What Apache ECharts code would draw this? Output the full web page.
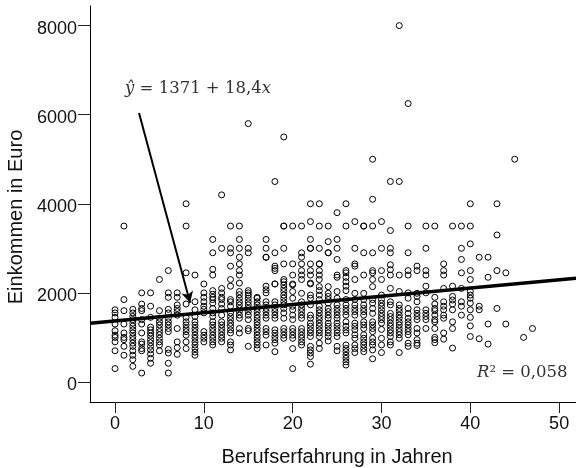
<!DOCTYPE html>
<html><head><meta charset="utf-8">
<style>html,body{margin:0;padding:0;background:#fff}#c{width:576px;height:468px}</style>
<script src="https://cdn.jsdelivr.net/npm/echarts@6/dist/echarts.min.js"></script>
</head><body><div id="c"></div>
<script>
const xTicks=[0,10,20,30,40,50];
const yTicks=[0,2000,4000,6000,8000];
const intercept=1371, slope=18.4;
const e00=[1620,1550,1450,1300,1150,1050,1000,900,700,300];
const e01=[3500,1850,1600,1300,1100,1000,950,800,600];
const e02=[1630,1550,1470,1400,1320,1250,1170,1100,1020,950,870,800,700,600,500,350];
const e03=[2000,1750,1650,1600,1400,1300,1100,900,850,750,700,200];
const e04=[2000,1700,1450,1230,1170,1100,1030,950,880,800,720,630,530,420];
const e05=[2300,1600,1430,1350,1280,1200,1130,1060,980,900,830,700];
const e06=[2500,2000,1900,1630,1550,1430,1350,1280,1200,1130,730,650,420,200];
const e07=[2000,1900,1730,1650,1580,1500,1200,900,770,620];
const e08=[4000,3500,2450,1750,1450,1350,1280,1200,1130,1050,900,750];
const e09=[2400,1800,1620,1470,1350,1280,1200,1130,1050,980,900,830,750,670,600];
const e10=[2200,2000,1900,1800,1700,1630,1550,1130,1050,980,900];
const e11=[3200,2900,2530,2400,2050,1970,1900,1850,1770,1650,1550,1470,1350,1280,1200,1130,1050,980,900,830];
const e12=[4200,3000,2100,2000,1900,1850,1750,1650,1500,1350,1280,1200,1130,1050,980,900];
const e13=[3500,3000,2900,2600,2300,2150,1850,1800,1700,1550,1470,1400,1320,1250,1170,1100,900,830,720];
const e14=[3500,3200,3000,2800,2650,2500,2400,2220,2030,1960,1880,1800,1730,1650,1580,1500,1430,1200,1100];
const e15=[3000,2900,2050,2000,1950,1880,1800,1730,1650,1580,1500,1400,1200,1150,800,5800];
const e16=[1900,1880,1800,1730,1650,1580,1500,1430,1350,1280,1200,1130,1050,980,900,830,750];
const e17=[3200,3000,2800,2800,2150,2070,2000,1800,1730,1650,1580,1500,1430,1200,1130,1050,830];
const e18=[4500,2900,2600,2550,2500,2200,2200,1800,1730,1650,1580,1500,1430,1170,1100,1020,950,870,680];
const e19=[5500,3500,3500,3000,2650,2300,2250,2180,2100,2030,1950,1880,1800,1730,1650,1550,1430,1200,1130,1050,980];
const e20=[3500,2650,2400,2200,2180,2030,1880,1700,1620,1500,1400,1200,1130,1050,980,750,300];
const e21=[3500,2900,2800,2650,2500,2400,2300,1990,1800,1730,1650,1580,1500,1430,1200,1130,1050,980,900,830];
const e22=[4000,3600,3200,3000,3000,2650,2500,2400,2220,2200,1950,1880,1730,1500,1430,1320,1250,1170,1100,1020,800,720,650,570,400];
const e23=[4000,3500,3000,2650,2650,2500,2400,2300,2140,2050,1950,1850,1700,1620,1550,1470,1400,1320,1250,1170,1100,1020,870,750];
const e24=[3500,3150,2900,2900,2140,1990,1920,1850,1770,1650,1580,1500,1430,1320,1250,1170,1100,1020,920];
const e25=[3800,3200,3000,2750,2400,2350,2030,1880,1730,1650,1580,1500,1430,1320,1250,1170,1100,1020,800,700];
const e26=[4000,3500,2500,2450,2350,2250,2150,2050,1850,1730,1650,1580,1500,1350,1250,1170,1100,830,750,680,600,530,450,380];
const e27=[3600,3000,2650,2600,2300,1990,1850,1730,1650,1580,1500,1320,1250,1170,1060,980,830,750,660];
const e28=[3500,3500,2900,2400,1990,1850,1730,1650,1580,1500,1350,1280,1200,1060,980,900,830,750,680];
const e29=[5000,4100,3500,2900,2500,2450,2300,2140,1850,1770,1650,1540,1350,1280,1200,1130,980,900,830,720,520];
const e30=[3600,3000,2500,2300,1950,1850,1770,1700,1620,1540,1470,1400,1320,1180,980,830,660];
const e31=[4500,3400,3000,2900,2630,2520,2400,2100,1800,1730,1540,1470,1400,1320,1250,1170,1100,1020,900,830];
const e32=[8000,4500,2400,2030,1730,1650,1580,1500,1430,1350,1280,1200,1130,1060,980,660];
const e33=[6250,3500,2900,2500,2400,2000,1880,1650,1540,1430,1350,1280,1200,1130,1060,870,800];
const e34=[2600,2500,1990,1920,1800,1620,1540,1470,1400,1200,1100,950,870,820];
const e35=[3500,3000,2500,2400,2150,2000,1620,1540,1470,1400,1200];
const e36=[3500,1900,1750,1650,1600,1500,1400,1350,1200,1000,950,880];
const e37=[2650,2500,2400,2100,1800,1700,1620,1500,1430,1100,960];
const e38=[3500,2150,1920,1840,1750,1620,1350,1200,760];
const e39=[3500,3000,2750,2450,2100,1800,1700,1500];
const e40=[4000,3500,3100,2500,2300,2030,1950,1880,1770,1620,1450,1260,1020];
const e41=[2800,1700,1620,970];
const e42=[2800,2350,1300,850];
const e43=[4000,3300,2500,1650];
const e44=[2450,1300];
const e45=[5000];
const e46=[1000];
const e47=[1200];
const columns=[e00,e01,e02,e03,e04,e05,e06,e07,e08,e09,e10,e11,e12,e13,e14,e15,e16,e17,e18,e19,e20,e21,e22,e23,e24,e25,e26,e27,e28,e29,e30,e31,e32,e33,e34,e35,e36,e37,e38,e39,e40,e41,e42,e43,e44,e45,e46,e47];
const points=[];
columns.forEach((col,yr)=>col.forEach(v=>points.push([yr,v])));
const xMin=-2.82,xMax=51.9,yMin=-450,yMax=8440;
const tickFont={fontFamily:'Liberation Sans',fontSize:18,color:'#111'};
const titleFont={fontFamily:'Liberation Sans',fontSize:20,color:'#111'};
const chart=echarts.init(document.getElementById('c'),null,{renderer:'canvas'});
chart.setOption({
  animation:false,
  grid:{left:90,right:0,top:6,bottom:66,containLabel:false,outerBoundsMode:'none'},
  xAxis:{type:'value',min:xMin,max:xMax,splitLine:{show:false},
    axisLine:{show:true,onZero:false,lineStyle:{color:'#000',width:1}},
    axisTick:{show:true,length:11,customValues:xTicks,lineStyle:{color:'#222',width:1}},
    axisLabel:Object.assign({customValues:xTicks,margin:13,formatter:v=>String(v)},tickFont),
    name:'Berufserfahrung in Jahren',nameLocation:'middle',nameGap:45,
    nameTextStyle:Object.assign({padding:[0,0,0,8]},titleFont)},
  yAxis:{type:'value',min:yMin,max:yMax,splitLine:{show:false},
    axisLine:{show:true,onZero:false,lineStyle:{color:'#000',width:1}},
    axisTick:{show:true,length:12,customValues:yTicks,lineStyle:{color:'#222',width:1}},
    axisLabel:Object.assign({customValues:yTicks,margin:13,verticalAlign:'top',lineHeight:6,formatter:v=>String(v)},tickFont),
    name:'Einkommen in Euro',nameLocation:'middle',nameGap:60,
    nameTextStyle:Object.assign({padding:[0,26,0,0]},titleFont)},
  series:[
    {type:'scatter',data:points,symbol:'circle',symbolSize:6,large:false,
     itemStyle:{color:'rgba(255,255,255,0)',borderColor:'#000',borderWidth:1,opacity:1},z:2},
    {type:'line',data:[[xMin,intercept+slope*xMin],[xMax,intercept+slope*xMax]],showSymbol:false,
     lineStyle:{color:'#000',width:3.5},z:3,silent:true,
     markLine:{silent:true,animation:false,symbol:['none','arrow'],symbolSize:[9,11],label:{show:false},
       lineStyle:{color:'#000',width:2,type:'solid'},
       data:[[{coord:[2.7,6040]},{coord:[8.45,1780]}]]}}
  ],
  graphic:[
    {type:'text',left:125,top:80,z:10,style:{rich:{
       i:{fontFamily:'DejaVu Serif',fontStyle:'italic',fontSize:16.5,fill:'#333'},
       n:{fontFamily:'DejaVu Serif',fontSize:16.5,fill:'#333'}},
       text:'{i|ŷ}{n| = 1371 + 18,4}{i|x}'}},
    {type:'text',left:477,top:364,z:10,style:{rich:{
       i:{fontFamily:'DejaVu Serif',fontStyle:'italic',fontSize:16.5,fill:'#333'},
       n:{fontFamily:'DejaVu Serif',fontSize:16.5,fill:'#333'}},
       text:'{i|R}{n|² = 0,058}'}}
  ]
});
</script></body></html>
